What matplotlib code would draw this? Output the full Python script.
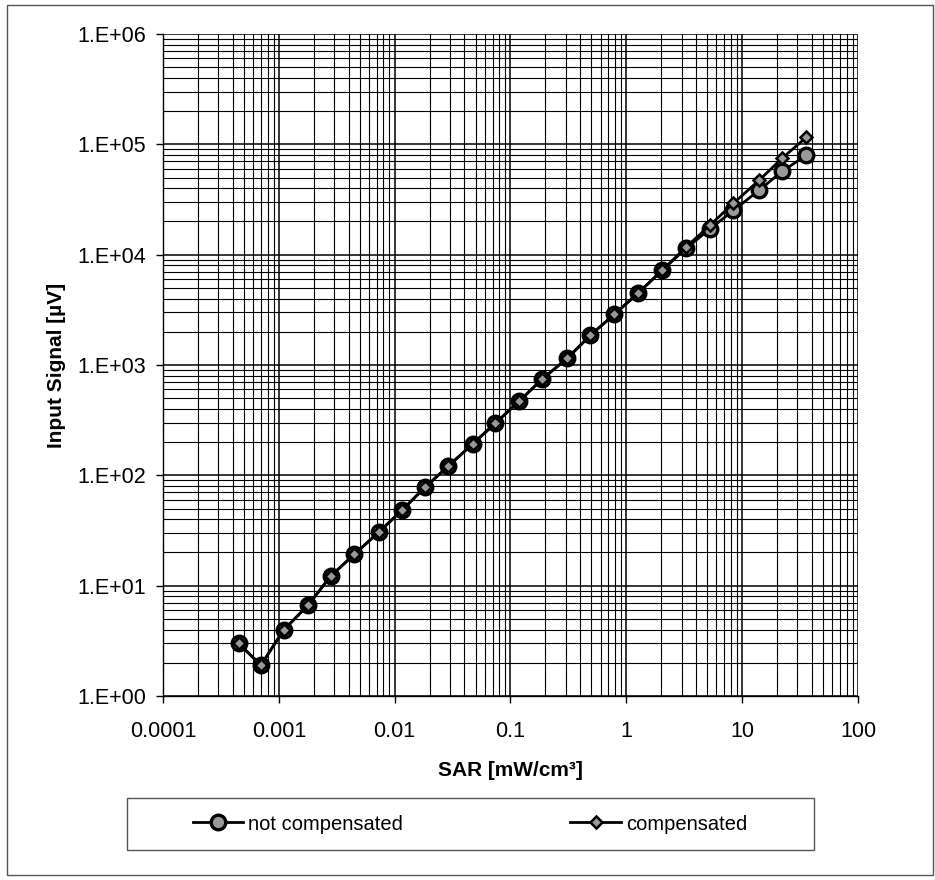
import matplotlib
matplotlib.use("Agg")
import matplotlib.pyplot as plt
from matplotlib.ticker import FixedLocator, FixedFormatter, LogLocator, NullFormatter
from matplotlib.patches import Rectangle

plt.rcParams['font.family'] = ['Liberation Sans', 'DejaVu Sans']

# SAR values [mW/cm3]
sar = [0.00045, 0.0007, 0.0011, 0.0018, 0.0028, 0.0045, 0.0073, 0.0116, 0.0183,
       0.029, 0.047, 0.074, 0.119, 0.187, 0.31, 0.49, 0.79, 1.26, 2.04, 3.28,
       5.3, 8.4, 14.0, 22.1, 35.7]

# input signal [uV]
not_compensated = [3.0, 1.9, 3.96, 6.7, 12.2, 19.3, 30.6, 48.4, 78, 121, 192, 297,
                   470, 743, 1153, 1862, 2884, 4470, 7220, 11400, 17200, 25200,
                   38300, 56900, 79400]
compensated = [3.0, 1.9, 3.96, 6.7, 12.2, 19.3, 30.6, 48.4, 78, 121, 192, 297,
               470, 743, 1153, 1862, 2884, 4470, 7220, 11700, 18600, 29200,
               47200, 74700, 115600]

x_ticks = [0.0001, 0.001, 0.01, 0.1, 1, 10, 100]
x_tick_labels = ['0.0001', '0.001', '0.01', '0.1', '1', '10', '100']
y_ticks = [1, 10, 100, 1000, 10000, 100000, 1000000]
y_tick_labels = ['1.E+00', '1.E+01', '1.E+02', '1.E+03', '1.E+04', '1.E+05', '1.E+06']

fig = plt.figure(figsize=(9.35, 8.8), dpi=100)
ax = fig.add_axes([163 / 935, 1 - 696 / 880, (858 - 163) / 935, (696 - 34) / 880])

ax.plot(sar, not_compensated, color='black', linewidth=2, marker='o', markersize=10.5,
        markerfacecolor='#999999', markeredgecolor='black', markeredgewidth=2.4,
        label='not compensated', zorder=3)
ax.plot(sar, compensated, color='black', linewidth=2, marker='D', markersize=6.5,
        markerfacecolor='#999999', markeredgecolor='black', markeredgewidth=1.8,
        label='compensated', zorder=4)

ax.set_xscale('log')
ax.set_yscale('log')
ax.set_xlim(0.0001, 100)
ax.set_ylim(1, 1000000)

ax.xaxis.set_major_locator(FixedLocator(x_ticks))
ax.xaxis.set_major_formatter(FixedFormatter(x_tick_labels))
ax.yaxis.set_major_locator(FixedLocator(y_ticks))
ax.yaxis.set_major_formatter(FixedFormatter(y_tick_labels))
ax.xaxis.set_minor_locator(LogLocator(base=10, subs=range(2, 10), numticks=20))
ax.yaxis.set_minor_locator(LogLocator(base=10, subs=range(2, 10), numticks=20))
ax.xaxis.set_minor_formatter(NullFormatter())
ax.yaxis.set_minor_formatter(NullFormatter())

ax.grid(True, which='major', color='black', linewidth=1.1)
ax.grid(True, which='minor', color='black', linewidth=0.8)
ax.set_axisbelow(True)

ax.tick_params(which='major', direction='out', length=5, width=1, labelsize=15.5)
ax.tick_params(axis='x', which='major', pad=13)
ax.tick_params(axis='y', which='major', pad=7)
ax.tick_params(which='minor', length=0)

for side in ['top', 'right']:
    ax.spines[side].set_visible(False)
ax.spines['left'].set_linewidth(1)
ax.spines['bottom'].set_linewidth(1)

ax.set_xlabel('SAR [mW/cm\u00b3]', fontsize=15, fontweight='bold', labelpad=14)
ax.set_ylabel('Input Signal [\u00b5V]', fontsize=15, fontweight='bold', labelpad=8)

# legend box drawn separately, entries centred inside it
fig.patches.append(Rectangle((127 / 935, 1 - 850 / 880), (814 - 127) / 935, 52 / 880,
                             transform=fig.transFigure, fill=False,
                             edgecolor='#555555', linewidth=1))
fig.legend(loc='center', ncol=2, bbox_to_anchor=(470 / 935, 1 - 824 / 880),
           fontsize=14.5, handlelength=2.5, handletextpad=0.25, columnspacing=8.3,
           frameon=False, borderaxespad=0)

fig.patches.append(Rectangle((7 / 935, 1 - 875 / 880), 926 / 935, 870 / 880,
                             transform=fig.transFigure, fill=False,
                             edgecolor='#555555', linewidth=1))

plt.savefig('out.png', dpi=100)
